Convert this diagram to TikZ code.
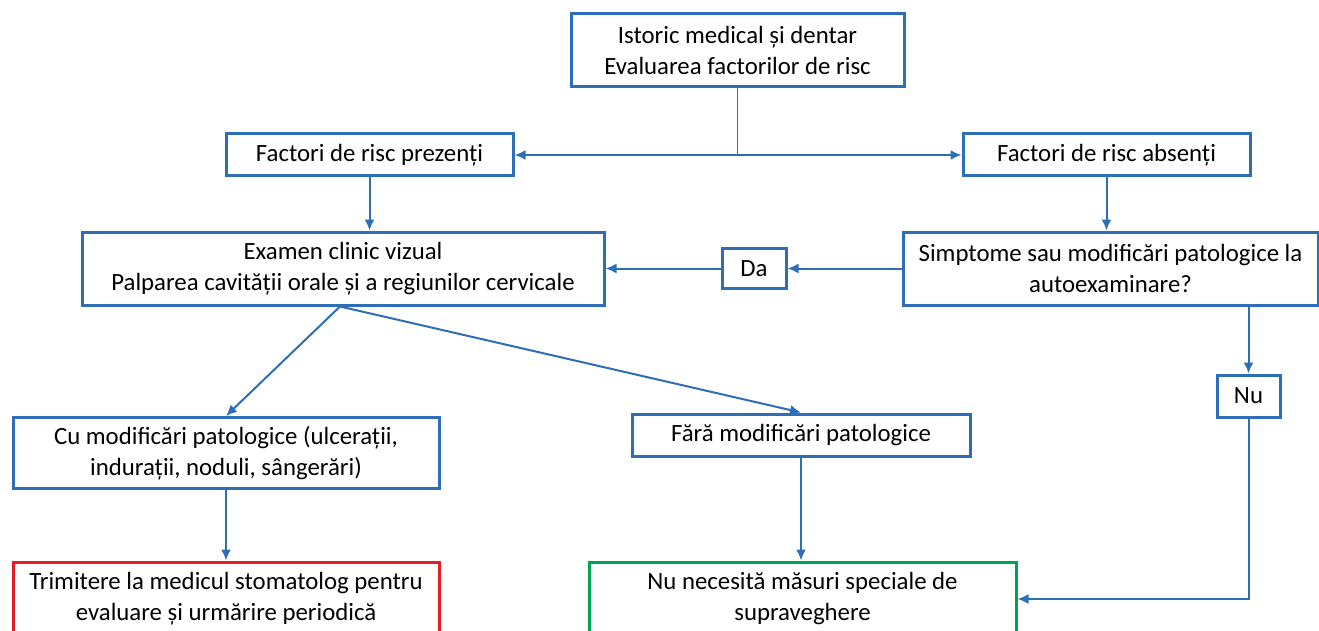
\documentclass[tikz,border=0pt]{standalone}
\usepackage{fontspec}
\setmainfont{Carlito}
\usetikzlibrary{arrows.meta,calc}
\definecolor{bblue}{RGB}{46,110,182}
\definecolor{bred}{RGB}{228,30,36}
\definecolor{bgreen}{RGB}{0,164,80}
\begin{document}
\begin{tikzpicture}[x=1pt,y=-1pt,
  box/.style={draw=bblue,line width=3pt,rectangle,inner sep=0pt,align=center,fill=white,
    font=\fontsize{24.8}{31}\selectfont},
  conn/.style={draw=bblue,line width=2pt,-{Latex[length=11pt,width=10pt]}},
  plain/.style={draw=bblue,line width=1.5pt}]
\clip (0,0) rectangle (1319,631);
\fill[white] (0,0) rectangle (1319,631);
\node[box,minimum width=333pt,minimum height=73pt] (top) at (737.5,50.5) {Istoric medical și dentar\\Evaluarea factorilor de risc};
\node[box,minimum width=287pt,minimum height=42pt] (prez) at (369.5,155) {Factori de risc prezenți};
\node[box,minimum width=287pt,minimum height=42pt] (abs) at (1106.5,155) {Factori de risc absenți};
\node[box,minimum width=522pt,minimum height=73pt] (exam) at (343,268.5) {Examen clinic vizual\\Palparea cavității orale și a regiunilor cervicale};
\node[box,minimum width=64pt,minimum height=40pt] (da) at (754,268.5) {Da};
\node[box,minimum width=415pt,minimum height=73pt] (simp) at (1110.5,268.5) {Simptome sau modificări patologice la\\autoexaminare?};
\node[box,minimum width=63pt,minimum height=42pt] (nu) at (1248.5,396) {Nu};
\node[box,minimum width=426pt,minimum height=71pt] (cu) at (226,453) {Cu modificări patologice (ulcerații,\\indurații, noduli, sângerări)};
\node[box,minimum width=338pt,minimum height=42pt] (fara) at (801,435) {Fără modificări patologice};
\node[box,draw=bred,minimum width=426pt,minimum height=74pt] (red) at (226,599) {Trimitere la medicul stomatolog pentru\\evaluare și urmărire periodică};
\node[box,draw=bgreen,minimum width=427pt,minimum height=74pt] (green) at (802.5,599) {Nu necesită măsuri speciale de\\supraveghere};
\coordinate (j) at (top.south |- prez.east);
\draw[plain] (top.south) -- (j);
\draw[conn] (j) -- (prez.east);
\draw[conn] (j) -- (abs.west);
\draw[conn] (prez.south) -- (prez.south |- exam.north);
\draw[conn] (abs.south) -- (abs.south |- simp.north);
\draw[conn] (simp.west) -- (da.east);
\draw[conn] (da.west) -- (exam.east);
\coordinate (es) at ([xshift=-3pt]exam.south);
\draw[conn] (es) -- (cu.north);
\draw[conn] (es) -- (fara.north);
\draw[conn] (cu.south) -- (red.north);
\draw[conn] (fara.south) -- (fara.south |- green.north);
\draw[conn] (nu.north |- simp.south) -- (nu.north);
\draw[conn] (nu.south) -- (nu.south |- green.east) -- (green.east);
\end{tikzpicture}
\end{document}
